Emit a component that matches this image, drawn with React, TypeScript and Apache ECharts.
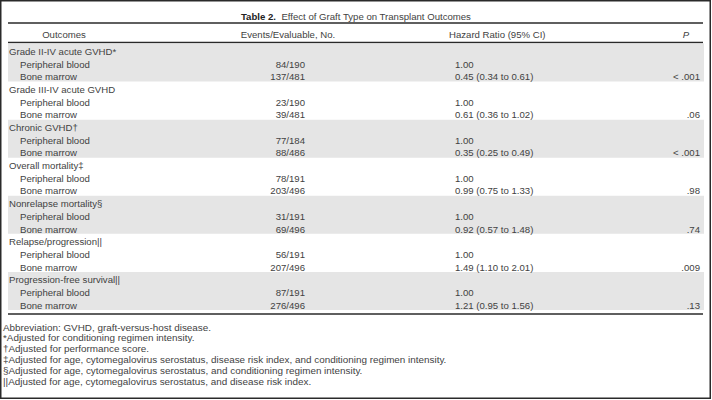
import React, { useEffect, useRef } from "react";
import * as echarts from "echarts";

const titleBold = "Table 2.";
const titleRest = "Effect of Graft Type on Transplant Outcomes";
const headers = ["Outcomes", "Events/Evaluable, No.", "Hazard Ratio (95% CI)", "P"];
const groups = [
  "Grade II-IV acute GVHD*",
  "Grade III-IV acute GVHD",
  "Chronic GVHD\u2020",
  "Overall mortality\u2021",
  "Nonrelapse mortality\u00a7",
  "Relapse/progression||",
  "Progression-free survival||",
];
const subLabels = ["Peripheral blood", "Bone marrow"];
const pbEvents = ["84/190", "23/190", "77/184", "78/191", "31/191", "56/191", "87/191"];
const bmEvents = ["137/481", "39/481", "88/486", "203/496", "69/496", "207/496", "276/496"];
const pbHR = ["1.00", "1.00", "1.00", "1.00", "1.00", "1.00", "1.00"];
const bmHR = [
  "0.45 (0.34 to 0.61)",
  "0.61 (0.36 to 1.02)",
  "0.35 (0.25 to 0.49)",
  "0.99 (0.75 to 1.33)",
  "0.92 (0.57 to 1.48)",
  "1.49 (1.10 to 2.01)",
  "1.21 (0.95 to 1.56)",
];
const pValues = ["< .001", ".06", "< .001", ".98", ".74", ".009", ".13"];
const footnotes = [
  "Abbreviation: GVHD, graft-versus-host disease.",
  "*Adjusted for conditioning regimen intensity.",
  "\u2020Adjusted for performance score.",
  "\u2021Adjusted for age, cytomegalovirus serostatus, disease risk index, and conditioning regimen intensity.",
  "\u00a7Adjusted for age, cytomegalovirus serostatus, and conditioning regimen intensity.",
  "||Adjusted for age, cytomegalovirus serostatus, and disease risk index.",
];

type Row = { label: string; indent: boolean; events: string; hr: string; p: string; group: number; first: boolean };
const rows: Row[] = [];
groups.forEach((g, gi) => {
  rows.push({ label: g, indent: false, events: "", hr: "", p: "", group: gi, first: true });
  rows.push({ label: subLabels[0], indent: true, events: pbEvents[gi], hr: pbHR[gi], p: "", group: gi, first: false });
  rows.push({ label: subLabels[1], indent: true, events: bmEvents[gi], hr: bmHR[gi], p: pValues[gi], group: gi, first: false });
});

const FONT = "'Liberation Sans', Arial, sans-serif";
const TXT = "#424242";
const FS = 9.6;
const FN_FS = 9.9;
const BAND = "#e5e5e5";
const LINE = "#2a2a2a";

export default function App() {
  const ref = useRef<HTMLDivElement>(null);
  useEffect(() => {
    if (!ref.current) return;
    const chart = echarts.init(ref.current, null, { renderer: "svg" });
    const txt = (x: number, y: number, text: string, align: string, extra: any = {}) => ({
      type: "text",
      x,
      y,
      silent: true,
      style: { text, x: 0, y: 0, fill: TXT, fontSize: FS, fontFamily: FONT, align, verticalAlign: "middle", ...extra },
    });
    const hline = (y: number) => ({
      type: "line",
      silent: true,
      shape: { x1: 8, y1: y, x2: 703, y2: y },
      style: { stroke: LINE, lineWidth: 1.3 },
    });
    const graphic: any[] = [
      {
        type: "rect",
        silent: true,
        shape: { x: 0.75, y: 0.75, width: 709.5, height: 397.5 },
        style: { fill: "none", stroke: LINE, lineWidth: 1.5 },
      },
      {
        type: "text",
        x: 356,
        y: 16,
        silent: true,
        style: {
          text: "{b|" + titleBold + "}  " + titleRest,
          fill: TXT,
          fontSize: FS,
          fontFamily: FONT,
          align: "center",
          verticalAlign: "middle",
          rich: { b: { fontWeight: "bold", fontSize: FS, fontFamily: FONT, fill: "#222" } },
        },
      },
      hline(23),
      txt(64, 34, headers[0], "center"),
      txt(288, 34, headers[1], "center"),
      txt(449, 34, headers[2], "left"),
      txt(686, 34, headers[3], "center", { fontStyle: "italic" }),
      hline(42.5),
      hline(314),
      ...footnotes.map((f, i) => txt(3, 327 + i * 10.9, f, "left", { fontSize: FN_FS })),
    ];

    const option: any = {
      animation: false,
      grid: { left: 0, right: 0, top: 43.5, height: 266.5 },
      xAxis: { type: "value", min: 0, max: 712, show: false },
      yAxis: { type: "category", data: rows.map((_, i) => String(i)), inverse: true, show: false },
      graphic,
      series: [
        {
          type: "custom",
          silent: true,
          data: rows.map((_, i) => [0, i]),
          renderItem: (params: any, api: any) => {
            const r = rows[params.dataIndex];
            const c = api.coord([0, api.value(1)]);
            const yc = c[1];
            const h = api.size([0, 1])[1];
            const ty = yc + 1.5;
            const children: any[] = [];
            if (r.first && r.group % 2 === 0) {
              children.push({
                type: "rect",
                z2: 0,
                shape: { x: 8, y: yc - h / 2, width: 696, height: h * 3 },
                style: { fill: BAND },
              });
            }
            const t = (xv: number, text: string, align: string) => ({
              type: "text",
              z2: 10,
              x: api.coord([xv, 0])[0],
              y: ty,
              style: { text, fill: TXT, fontSize: FS, fontFamily: FONT, align, verticalAlign: "middle" },
            });
            children.push(t(r.indent ? 20 : 9, r.label, "left"));
            if (r.events) children.push(t(305, r.events, "right"));
            if (r.hr) children.push(t(455, r.hr, "left"));
            if (r.p) children.push(t(700, r.p, "right"));
            return { type: "group", children };
          },
        },
      ],
    };
    chart.setOption(option);
    return () => chart.dispose();
  }, []);
  return <div ref={ref} style={{ position: "fixed", left: 0, top: 0, width: 712, height: 400, background: "#fff" }} />;
}
